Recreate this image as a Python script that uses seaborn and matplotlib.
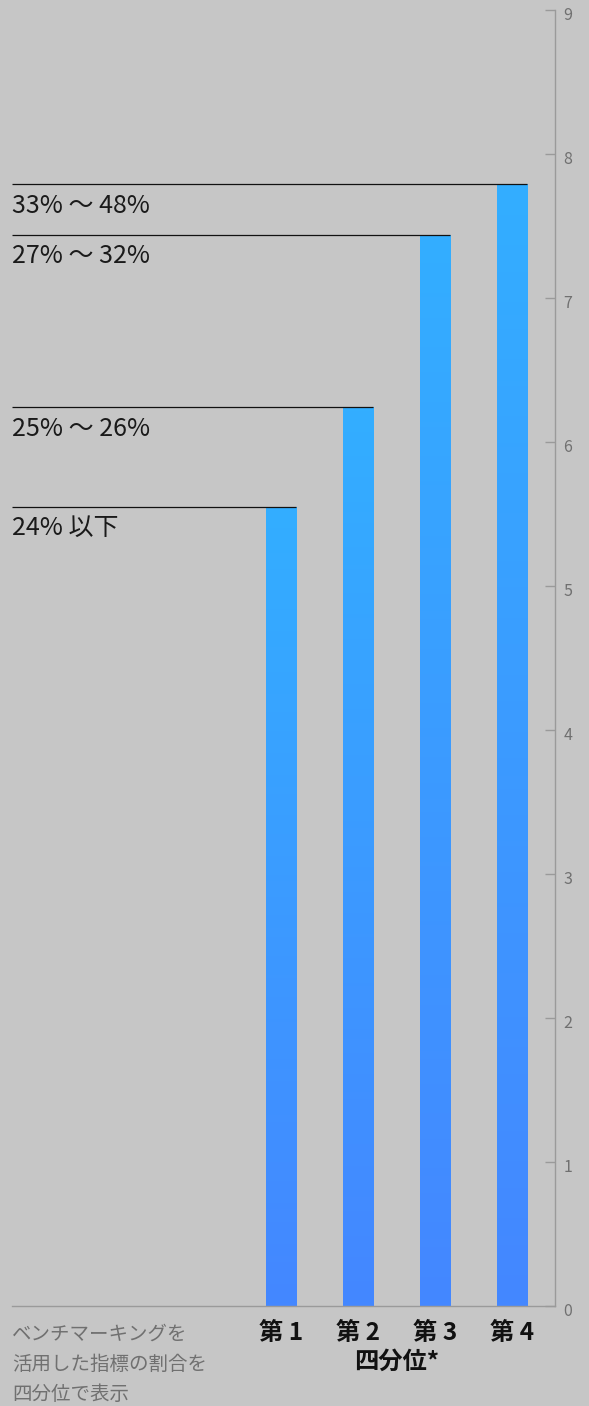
import numpy as np
import pandas as pd
import matplotlib
matplotlib.use('Agg')
import matplotlib.pyplot as plt
import matplotlib.transforms as mtransforms
import seaborn as sns
from matplotlib.colors import LinearSegmentedColormap

# ---- data ----
categories = ['第 1', '第 2', '第 3', '第 4']
values = [5.55, 6.24, 7.44, 7.79]
range_labels = ['24% 以下', '25% 〜 26%', '27% 〜 32%', '33% 〜 48%']
y_ticks = [0, 1, 2, 3, 4, 5, 6, 7, 8, 9]
x_title = '四分位*'
note = 'ベンチマーキングを\n活用した指標の割合を\n四分位で表示'

sns.set_theme(style='white')
plt.rcParams['font.family'] = ['Noto Sans CJK JP', 'DejaVu Sans']

bg = '#c6c6c6'
W, H = 589, 1406
fig = plt.figure(figsize=(W / 100, H / 100), dpi=100, facecolor=bg)
ax = fig.add_axes([12 / W, 100 / H, (555 - 12) / W, (1306 - 10) / H])
ax.set_facecolor(bg)

bar_w = 30 / 77
df = pd.DataFrame({'q': categories, 'v': values})
sns.barplot(data=df, x='q', y='v', ax=ax, color='#3aa0ff', width=bar_w,
            saturation=1, errorbar=None, edgecolor='none', linewidth=0)

cmap = LinearSegmentedColormap.from_list('g', ['#4487ff', '#33aeff'])
grad = np.linspace(0, 1, 256).reshape(-1, 1)
for p in ax.patches:
    x0, y0 = p.get_x(), p.get_y()
    w, h = p.get_width(), p.get_height()
    im = ax.imshow(grad, extent=[x0, x0 + w, y0, y0 + h], origin='lower',
                   aspect='auto', cmap=cmap, zorder=2)
    im.set_clip_path(p)

xl = (-3.49, 3.56)
ax.set_xlim(*xl)
ax.set_ylim(0, 9)

for i, (v, lab) in enumerate(zip(values, range_labels)):
    ax.hlines(v, xl[0], i + bar_w / 2, color='#111111', lw=0.9, zorder=3)
    ax.annotate(lab, xy=(0, v), xycoords=ax.get_yaxis_transform(),
                xytext=(0, -6), textcoords='offset points',
                ha='left', va='top', fontsize=18, color='#1a1a1a')

for s in ['left', 'top']:
    ax.spines[s].set_visible(False)
for s in ['right', 'bottom']:
    ax.spines[s].set_color('#9a9a9a')
    ax.spines[s].set_linewidth(1)

ax.yaxis.tick_right()
ax.set_yticks(y_ticks)
ax.tick_params(axis='y', direction='in', length=7, width=1, color='#9a9a9a',
               labelcolor='#707070', labelsize=11.5, pad=6, right=True, left=False)
ax.tick_params(axis='x', length=0, pad=10.5, labelsize=17.5, labelcolor='#111111')
for t in ax.get_xticklabels():
    t.set_fontweight('bold')
shift = mtransforms.ScaledTranslation(0, -3 / 100, fig.dpi_scale_trans)
for t in ax.get_yticklabels():
    t.set_transform(t.get_transform() + shift)
ax.set_xlabel('')
ax.set_ylabel('')

ax.annotate(x_title, xy=(1.5, 0), xycoords='data', xytext=(0, -40),
            textcoords='offset points', ha='center', va='center',
            fontsize=17.5, fontweight='bold', color='#111111')

fig.text(12 / W, 1 - 1324 / H, note, ha='left', va='top', fontsize=14,
         linespacing=1.55, color='#707070')

fig.savefig('out.png', dpi=100, facecolor=bg)
